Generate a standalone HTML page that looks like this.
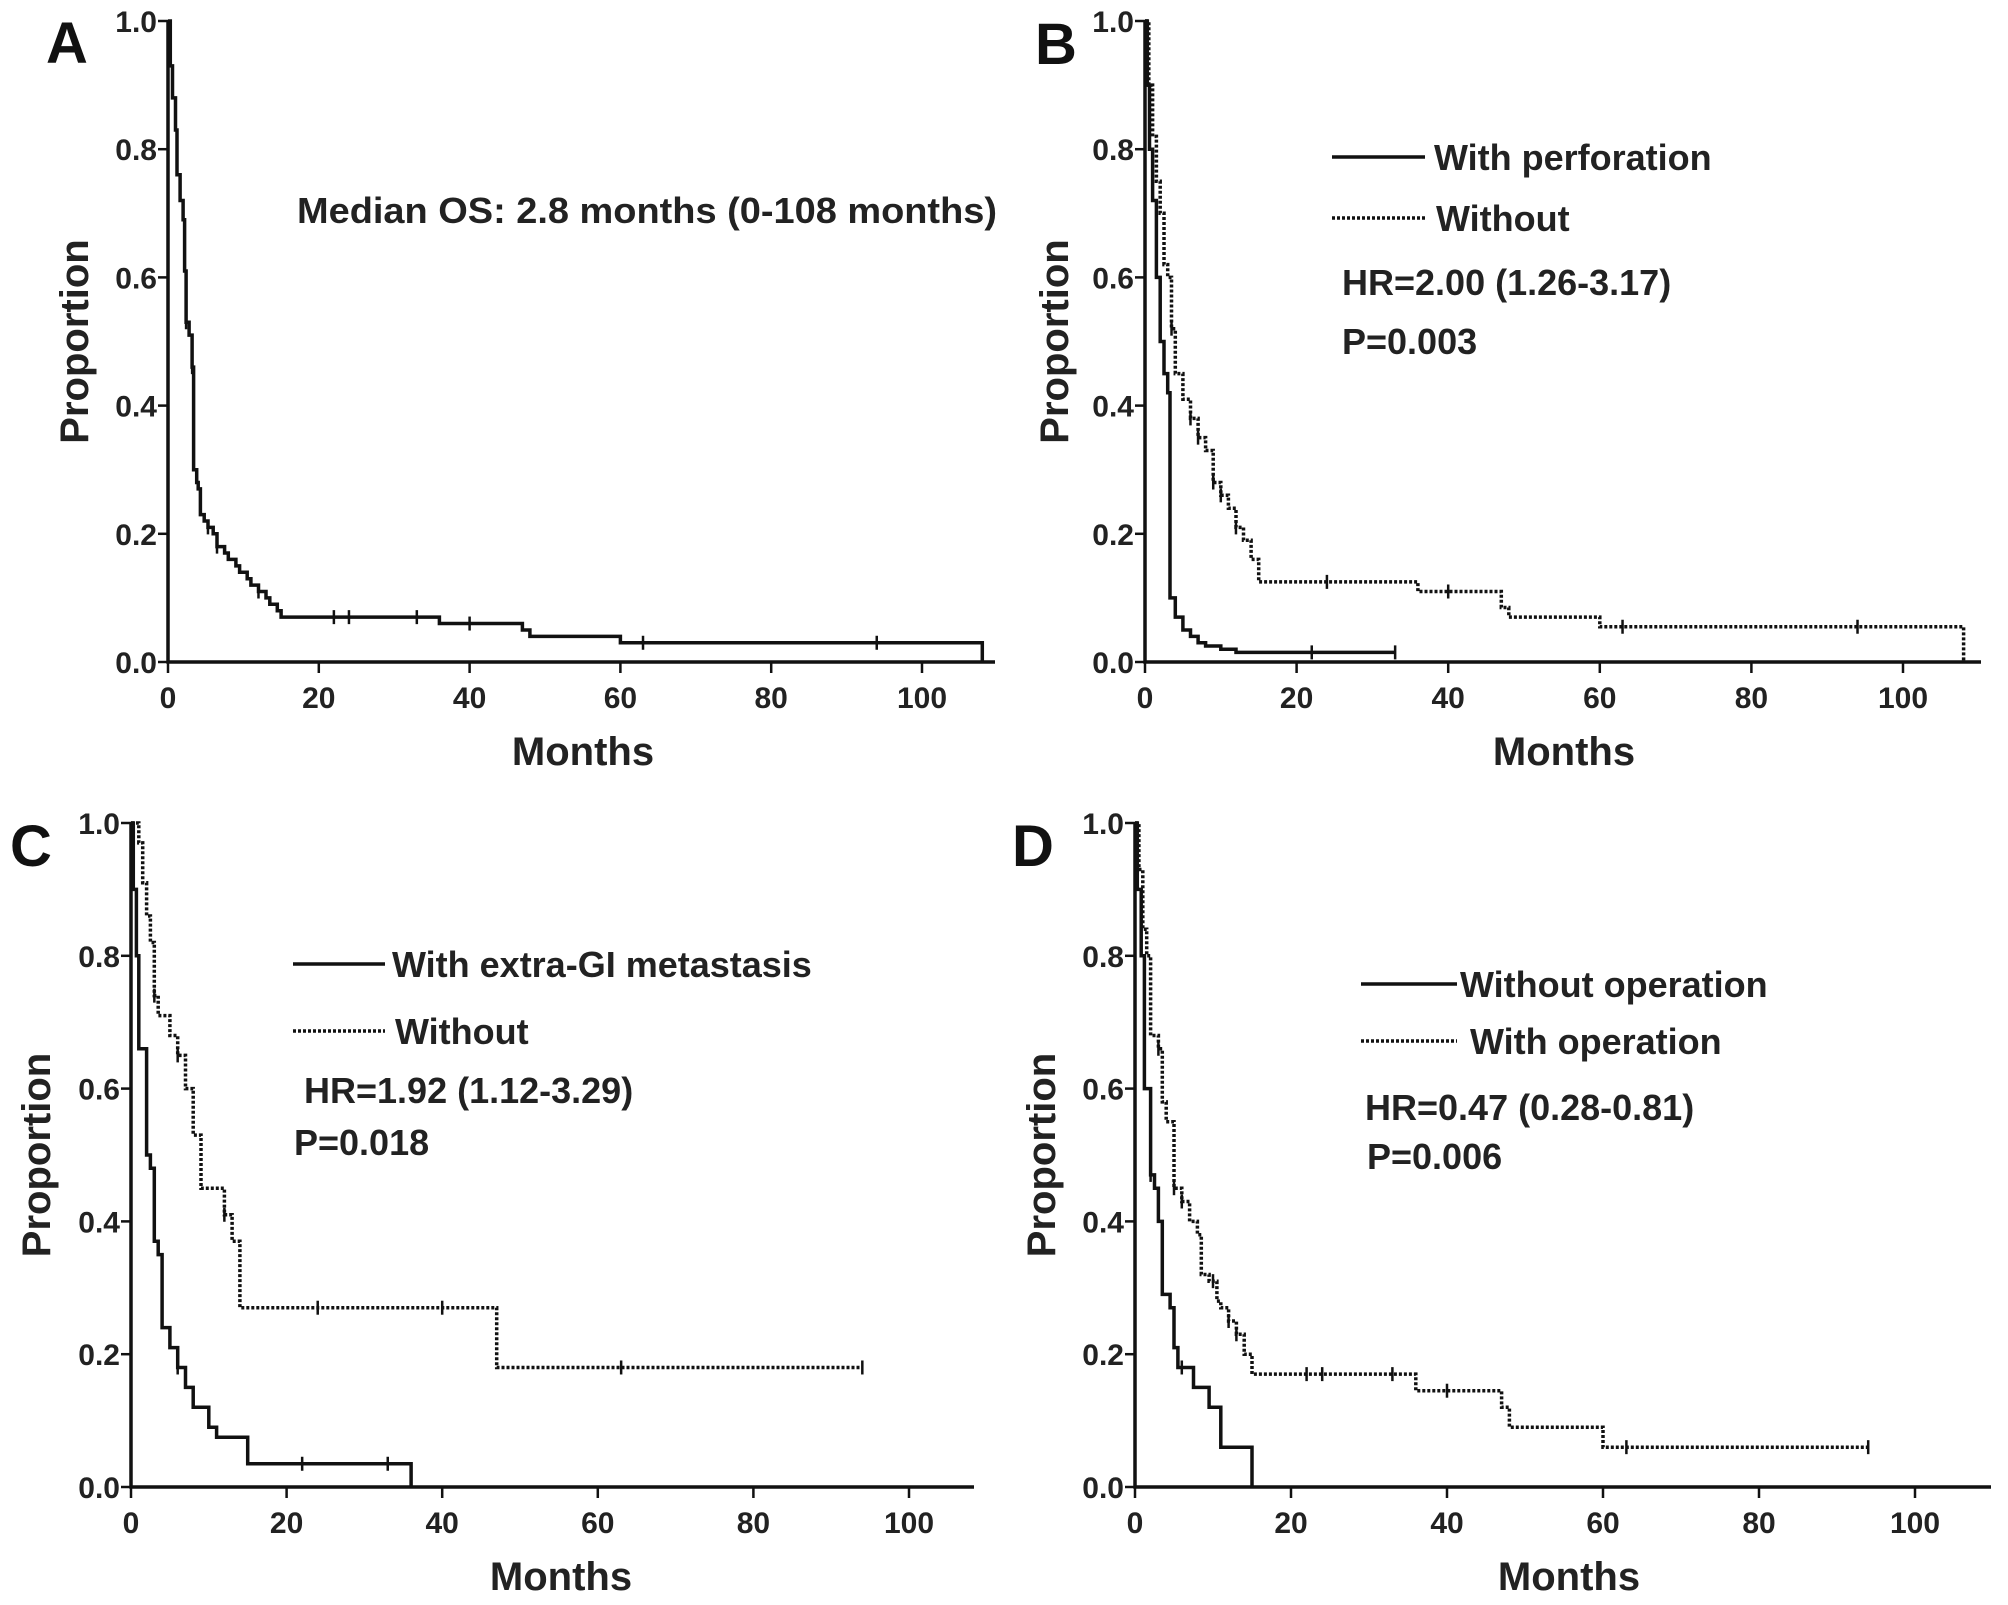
<!DOCTYPE html>
<html><head><meta charset="utf-8">
<style>
html,body{margin:0;padding:0;background:#fff;}
svg{display:block;font-family:"Liberation Sans",Arial,sans-serif;font-weight:bold;}
</style></head>
<body>
<svg id="fig" width="2008" height="1605" viewBox="0 0 2008 1605" xmlns="http://www.w3.org/2000/svg">
</svg>
<script>
// ---- data ----
const xTicks = [0, 20, 40, 60, 80, 100];
const yTicks = [0, 0.2, 0.4, 0.6, 0.8, 1.0];
const yTickLabels = ["0.0", "0.2", "0.4", "0.6", "0.8", "1.0"];

const aTimes = [0.3,0.6,1,1.2,1.6,2,2.2,2.4,2.8,3.2,3.4,3.8,4,4.3,4.8,5.3,6,6.5,7.5,8,9,9.5,10.5,11,12,13,13.5,14.5,15,36,47,48,60,108];
const aSurv  = [0.93,0.88,0.83,0.76,0.72,0.69,0.61,0.53,0.51,0.46,0.30,0.28,0.27,0.23,0.22,0.21,0.20,0.18,0.17,0.16,0.15,0.14,0.13,0.12,0.11,0.10,0.09,0.08,0.07,0.06,0.05,0.04,0.03,0.0];
const aCens  = [2.4,3.2,5.3,6.5,12,22,24,33,40,63,94];

const bSolidTimes = [0.3,0.6,1,1.5,2,2.5,3,3.3,4,5,6,7,8,10,12,33];
const bSolidSurv  = [0.9,0.8,0.72,0.6,0.5,0.45,0.42,0.1,0.07,0.05,0.04,0.03,0.025,0.02,0.015,0.015];
const bSolidCens  = [22,33];
const bDotTimes = [0.5,1,1.5,2,2.5,3,3.5,4,5,6,7,8,9,10,11,12,13,14,15,36,47,48,60,108];
const bDotSurv  = [0.9,0.82,0.75,0.7,0.62,0.6,0.52,0.45,0.41,0.38,0.35,0.33,0.28,0.26,0.24,0.21,0.19,0.16,0.125,0.11,0.085,0.07,0.055,0.0];
const bDotCens  = [3.5,6,7,9,10,12,24,40,63,94];

const cSolidTimes = [0.3,0.7,1,2,2.5,3,3.5,4,5,6,7,8,10,11,15,36];
const cSolidSurv  = [0.9,0.8,0.66,0.5,0.48,0.37,0.35,0.24,0.21,0.18,0.15,0.12,0.09,0.075,0.035,0.0];
const cSolidCens  = [6,22,33];
const cDotTimes = [1,1.5,2,2.5,3,3.5,5,6,7,8,9,12,13,14,47,94];
const cDotSurv  = [0.97,0.91,0.86,0.82,0.74,0.71,0.68,0.65,0.6,0.53,0.45,0.41,0.37,0.27,0.18,0.18];
const cDotCens  = [3,6,12,24,40,63,94];

const dSolidTimes = [0.3,0.8,1.2,2,2.5,3,3.5,4.5,5,5.5,7.5,9.5,11,15];
const dSolidSurv  = [0.9,0.8,0.6,0.47,0.45,0.4,0.29,0.27,0.21,0.18,0.15,0.12,0.06,0.0];
const dSolidCens  = [2,6];
const dDotTimes = [0.5,1,1.5,2,3,3.5,4,5,6,7,8,8.5,9.5,10.5,11,12,13,14,15,36,47,48,60,94];
const dDotSurv  = [0.93,0.84,0.8,0.68,0.66,0.58,0.55,0.45,0.43,0.4,0.38,0.32,0.31,0.28,0.27,0.25,0.23,0.2,0.17,0.145,0.12,0.09,0.06,0.06];
const dDotCens  = [3,5,6,10,12,13,22,24,33,40,63,94];

const NS = "http://www.w3.org/2000/svg";
const svg = document.getElementById('fig');
function mk(tag, attrs, parent){
  const e = document.createElementNS(NS, tag);
  for (const k in attrs) e.setAttribute(k, attrs[k]);
  (parent||svg).appendChild(e);
  return e;
}
function txt(str, attrs, parent){ const e = mk('text', attrs, parent); e.textContent = str; return e; }

function survAt(times, surv, t){
  let s = 1;
  for (let i=0;i<times.length;i++){ if (times[i] <= t) s = surv[i]; }
  return s;
}

function panel(p){
  const g = mk('g', {});
  
  
  const X = t => p.ox + t * p.pxm;
  const Y = v => p.oy - v * (p.oy - p.top);
  const ax = mk('path', {d:`M${p.ox},${p.top} V${p.oy} H${p.xend}`, fill:'none', stroke:'#111', 'stroke-width':3.5}, g);
  
  
  yTicks.forEach((v,i)=>{
    mk('line', {x1:p.ox-10, x2:p.ox, y1:Y(v), y2:Y(v), stroke:'#111','stroke-width':2.5}, g);
    const t = txt(yTickLabels[i], {x:p.ox-11, y:Y(v)+11, 'text-anchor':'end', 'font-size':30, fill:'#222'}, g);
    
    
  });
  xTicks.forEach(v=>{
    mk('line', {x1:X(v), x2:X(v), y1:p.oy, y2:p.oy+11, stroke:'#111','stroke-width':2.5}, g);
    const t = txt(String(v), {x:X(v), y:p.oy+46, 'text-anchor':'middle', 'font-size':30, fill:'#222'}, g);
    
    
  });
  const xt = txt('Months', {x:p.mx, y:p.oy+103, 'text-anchor':'middle', 'font-size':40, fill:'#222'}, g);
  
  
  const cy = (p.top+p.oy)/2;
  const yt = txt('Proportion', {x:0, y:0, 'text-anchor':'middle', 'font-size':40, fill:'#222', transform:`translate(${p.px},${cy}) rotate(-90)`}, g);
  
  
  const lt = txt(p.id.toUpperCase(), {x:p.lx, y:p.ly, 'font-size':58, fill:'#111'}, g);
  
  
  p.series.forEach(s=>{
    let d = `M${X(0)},${Y(1)}`;
    for (let i=0;i<s.times.length;i++){
      d += ` H${X(s.times[i]).toFixed(1)} V${Y(s.surv[i]).toFixed(1)}`;
    }
    const path = mk('path', {d, fill:'none', stroke:'#111', 'stroke-width': s.dot ? 3.5 : 3.5, 'stroke-dasharray': s.dot ? '3,2' : 'none'}, g);
    
    
    s.cens.forEach(c=>{
      const v = survAt(s.times, s.surv, c);
      const cm = mk('line', {x1:X(c), x2:X(c), y1:Y(v)-7, y2:Y(v)+7, stroke:'#111','stroke-width':2.5}, g);
      
      
    });
  });
  (p.legend||[]).forEach(l=>{
    const lg = mk('g', {}, g);
    
    
    mk('line', {x1:l.x1, x2:l.x2, y1:l.y, y2:l.y, stroke:'#111','stroke-width':3.5,'stroke-dasharray': l.dot?'3,2':'none'}, lg);
    txt(l.text, {x:l.tx, y:l.y+13, 'font-size':36, fill:'#222'}, lg);
  });
  (p.notes||[]).forEach(n=>{
    const t = txt(n.text, {x:n.x, y:n.y, 'font-size':36, fill:'#222'}, g);
    if (n.len) { t.setAttribute('textLength', n.len); t.setAttribute('lengthAdjust','spacingAndGlyphs'); }
    
    
  });
}

panel({id:'a', ox:168, oy:662, top:21, pxm:7.54, xend:995, mx:583, px:88, lx:46, ly:63,
  series:[{name:'overall-survival-curve', times:aTimes, surv:aSurv, cens:aCens, dot:false}],
  notes:[{text:'Median OS: 2.8 months  (0-108 months)', x:297, y:223, len:700}]});

panel({id:'b', ox:1145, oy:662, top:21, pxm:7.58, xend:1981, mx:1564, px:1068, lx:1035, ly:64,
  series:[{name:'with-perforation-curve', times:bSolidTimes, surv:bSolidSurv, cens:bSolidCens, dot:false},
          {name:'without-perforation-curve', times:bDotTimes, surv:bDotSurv, cens:bDotCens, dot:true}],
  legend:[{x1:1332,x2:1425,y:157,tx:1434,text:'With perforation',dot:false},
          {x1:1332,x2:1425,y:218,tx:1436,text:'Without',dot:true}],
  notes:[{text:'HR=2.00 (1.26-3.17)', x:1342, y:295},{text:'P=0.003', x:1342, y:354}]});

panel({id:'c', ox:131, oy:1487, top:823, pxm:7.78, xend:974, mx:561, px:50, lx:10, ly:866,
  series:[{name:'with-extra-gi-metastasis-curve', times:cSolidTimes, surv:cSolidSurv, cens:cSolidCens, dot:false},
          {name:'without-extra-gi-metastasis-curve', times:cDotTimes, surv:cDotSurv, cens:cDotCens, dot:true}],
  legend:[{x1:293,x2:385,y:964,tx:392,text:'With extra-GI metastasis',dot:false},
          {x1:293,x2:385,y:1031,tx:395,text:'Without',dot:true}],
  notes:[{text:'HR=1.92 (1.12-3.29)', x:304, y:1103},{text:'P=0.018', x:294, y:1155}]});

panel({id:'d', ox:1135, oy:1487, top:823, pxm:7.8, xend:1991, mx:1569, px:1055, lx:1012, ly:866,
  series:[{name:'without-operation-curve', times:dSolidTimes, surv:dSolidSurv, cens:dSolidCens, dot:false},
          {name:'with-operation-curve', times:dDotTimes, surv:dDotSurv, cens:dDotCens, dot:true}],
  legend:[{x1:1361,x2:1457,y:984,tx:1460,text:'Without operation',dot:false},
          {x1:1361,x2:1457,y:1041,tx:1470,text:'With operation',dot:true}],
  notes:[{text:'HR=0.47 (0.28-0.81)', x:1365, y:1120},{text:'P=0.006', x:1367, y:1169}]});
</script>
</body></html>
